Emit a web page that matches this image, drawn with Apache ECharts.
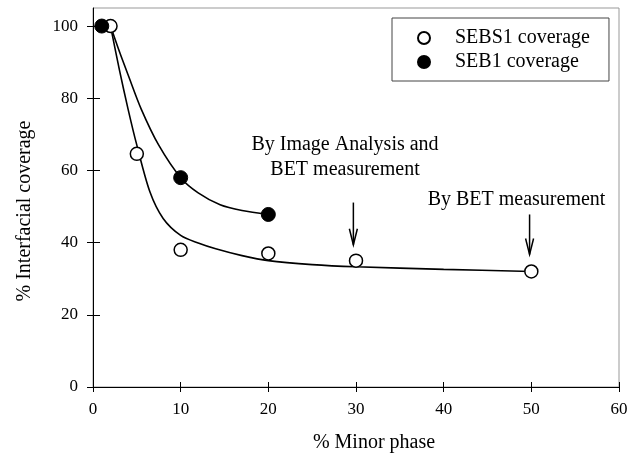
<!DOCTYPE html>
<html><head><meta charset="utf-8">
<script src="https://cdn.jsdelivr.net/npm/echarts@6/dist/echarts.min.js"></script>
<style>html,body{margin:0;padding:0;background:#fff}#c{width:635px;height:462px}</style>
</head><body><div id="c"></div>
<script>
// ---- data ----
const xTickValues = [0, 10, 20, 30, 40, 50, 60];
const yTickValues = [0, 20, 40, 60, 80, 100];
const seriesNames = ['SEBS1 coverage', 'SEB1 coverage'];
const sebs1X = [2, 5, 10, 20, 30, 50];
const sebs1Y = [100, 64.6, 38, 37, 35, 32];
const seb1X = [1, 10, 20];
const seb1Y = [100, 58, 47.8];
// fitted curves
const sebs1CurveX = [2, 3, 4, 5, 6.5, 8, 10, 12, 14, 17, 20, 25, 30, 40, 50];
const sebs1CurveY = [100, 88, 77, 67, 54, 46.7, 42, 39.9, 38.3, 36.4, 35.0, 33.9, 33.3, 32.6, 32];
const seb1CurveX = [2, 3, 4, 5.5, 7.5, 10, 12, 14.5, 17, 20];
const seb1CurveY = [100, 93, 86.5, 77, 67, 58, 53.8, 50.5, 48.9, 47.8];
const xTitle = '% Minor phase';
const yTitle = '% Interfacial coverage';
const note1 = 'By Image Analysis and\nBET measurement';
const note2 = 'By BET measurement';
const arrow1 = [[29.7, 51.1], [29.7, 39.4]];
const arrow2 = [[49.8, 47.8], [49.8, 36.7]];

const zip = (a, b) => a.map((v, i) => [v, b[i]]);
const FONT = "'Liberation Serif', 'Times New Roman', serif";

const chart = echarts.init(document.getElementById('c'), null, {renderer: 'canvas'});

const baseX = {type: 'value', min: 0, max: 60, interval: 10, splitLine: {show: false}};
const baseY = {type: 'value', min: 0, max: 105, splitLine: {show: false}};

chart.setOption({
  animation: false,
  backgroundColor: '#fff',
  grid: {left: 93, right: 16, top: 8, bottom: 75, show: true, borderColor: '#999', borderWidth: 1, backgroundColor: 'transparent'},
  xAxis: [
    Object.assign({}, baseX, {
      position: 'bottom',
      axisLine: {show: true, lineStyle: {color: '#000', width: 1}},
      axisTick: {show: true, inside: false, length: 5, lineStyle: {color: '#000'}},
      axisLabel: {show: true, color: '#000', fontFamily: FONT, fontSize: 17, margin: 14}
    }),
    Object.assign({}, baseX, {
      position: 'bottom',
      axisLine: {show: false},
      axisTick: {show: true, inside: true, length: 5, lineStyle: {color: '#000'}},
      axisLabel: {show: false}
    })
  ],
  yAxis: [
    Object.assign({}, baseY, {
      position: 'left',
      axisLine: {show: true, lineStyle: {color: '#000', width: 1}},
      axisTick: {show: true, inside: false, length: 6, customValues: yTickValues, lineStyle: {color: '#000'}},
      axisLabel: {show: true, color: '#000', fontFamily: FONT, fontSize: 17, margin: 15, customValues: yTickValues}
    }),
    Object.assign({}, baseY, {
      position: 'left',
      axisLine: {show: false},
      axisTick: {show: true, inside: true, length: 7, customValues: yTickValues, lineStyle: {color: '#000'}},
      axisLabel: {show: false}
    })
  ],
  legend: {
    data: seriesNames,
    orient: 'vertical',
    left: 392, top: 18,
    padding: [10, 19, 9, 25],
    itemGap: 4,
    itemWidth: 12, itemHeight: 12,
    borderColor: '#444', borderWidth: 1,
    backgroundColor: '#fff',
    textStyle: {color: '#000', fontFamily: FONT, fontSize: 20, lineHeight: 20, padding: [0, 0, 0, 20]}
  },
  series: [
    {type: 'line', name: 'SEBS1 fit', data: zip(sebs1CurveX, sebs1CurveY), smooth: 0.3,
     showSymbol: false, symbol: 'none', lineStyle: {color: '#000', width: 1.6}, silent: true, z: 2},
    {type: 'line', name: 'SEB1 fit', data: zip(seb1CurveX, seb1CurveY), smooth: 0.3,
     showSymbol: false, symbol: 'none', lineStyle: {color: '#000', width: 1.6}, silent: true, z: 2},
    {type: 'scatter', name: seriesNames[0], data: zip(sebs1X, sebs1Y), symbol: 'circle', symbolSize: 13,
     itemStyle: {color: '#fff', borderColor: '#000', borderWidth: 1.5, opacity: 1}, z: 4},
    {type: 'scatter', name: seriesNames[1], data: zip(seb1X, seb1Y), symbol: 'circle', symbolSize: 14,
     itemStyle: {color: '#000', borderColor: '#000', borderWidth: 1, opacity: 1}, z: 5}
  ]
});

function arrowGraphic(pts) {
  const a = chart.convertToPixel({gridIndex: 0}, pts[0]);
  const b = chart.convertToPixel({gridIndex: 0}, pts[1]);
  const style = {stroke: '#000', lineWidth: 1.5, fill: null};
  return [
    {type: 'line', shape: {x1: a[0], y1: a[1], x2: b[0], y2: b[1]}, style: style, z: 10},
    {type: 'polyline', shape: {points: [[b[0] - 4, b[1] - 16], [b[0], b[1]], [b[0] + 4, b[1] - 16]]}, style: style, z: 10}
  ];
}

chart.setOption({
  graphic: [
    {type: 'text', x: 374, y: 443, style: {text: xTitle, font: '20px ' + FONT, fill: '#000', align: 'center', verticalAlign: 'middle'}},
    {type: 'text', x: 25, y: 211, rotation: Math.PI / 2, style: {text: yTitle, font: '20px ' + FONT, fill: '#000', align: 'center', verticalAlign: 'middle'}},
    {type: 'text', x: 345, y: 157.5, style: {text: note1, font: '20px ' + FONT, lineHeight: 25, fill: '#000', align: 'center', verticalAlign: 'middle'}},
    {type: 'text', x: 516.5, y: 200, style: {text: note2, font: '20px ' + FONT, fill: '#000', align: 'center', verticalAlign: 'middle'}}
  ].concat(arrowGraphic(arrow1), arrowGraphic(arrow2))
});
</script>
</body></html>
